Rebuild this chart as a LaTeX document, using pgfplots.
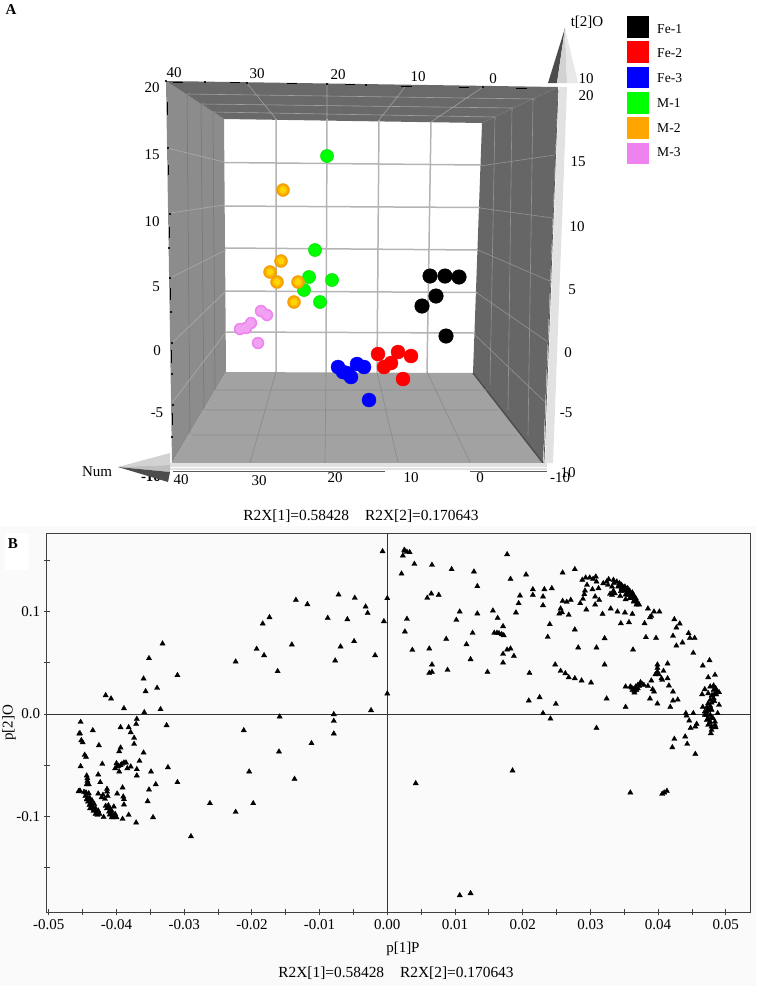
\documentclass[border=0pt]{standalone}
\usepackage{pgfplots}
\usepackage{pgfplotstable}
\usepackage{fontspec}
\usetikzlibrary{plotmarks}
\pgfplotsset{compat=1.18}
\setmainfont{Liberation Serif}

\definecolor{wallL}{HTML}{8C8C8C}
\definecolor{wallT}{HTML}{696969}
\definecolor{wallR}{HTML}{666666}
\definecolor{wallF}{HTML}{A2A2A2}
\definecolor{gridB}{HTML}{B4B4B4}
\definecolor{barC}{HTML}{E2E2E2}
\definecolor{paper}{HTML}{FAFAFA}
\definecolor{legG}{HTML}{00FF00}
\definecolor{legO}{HTML}{FFA500}
\definecolor{legP}{HTML}{EE82EE}

\newcommand{\fs}[1]{\fontsize{#1}{#1}\selectfont}

% scores, panel A (picture position of each sphere)
\pgfplotstableread{
x y
430 276
445 276
459 277
436 296
422 306
446 336
}\feOne
\pgfplotstableread{
x y
378 354
398 352
411 356
391 363
384 367
403 379
}\feTwo
\pgfplotstableread{
x y
338 367
343 372
347 373
351 377
357 364
364 367
369 400
}\feThree
\pgfplotstableread{
x y
327 156
315 250
309 277
332 280
304 290
320 302
}\mOne
\pgfplotstableread{
x y
283 190
281 261
270 272
277 282
298 282
294 302
}\mTwo
\pgfplotstableread{
x y
261 311
267 315
251 323
246 328
240 329
258 343
}\mThree

\begin{document}
\begin{tikzpicture}
\path[use as bounding box] (0,0) rectangle (756pt,986pt);
% panel A: box, scores and legend on a canvas measured from the top left
\begin{axis}[
  at={(0pt,0pt)}, anchor=south west,
  scale only axis, width=756pt, height=986pt,
  xmin=0, xmax=756, ymin=0, ymax=986, y dir=reverse,
  hide axis, clip=false,
  unbounded coords=jump,
]
\addplot[fill=paper,draw=none] coordinates {(0,526)(756,526)(756,986)(0,986)};
% walls
\addplot[fill=wallL,draw=none] coordinates {(166,81)(224,119)(226,372)(172,463)};
\addplot[fill=wallT,draw=none] coordinates {(166,81)(558,87)(482,123)(224,119)};
\addplot[fill=wallR,draw=none] coordinates {(558,87)(543,463)(473,373)(482,123)};
\addplot[fill=wallF,draw=none] coordinates {(226,372)(473,373)(543,463)(172,463)};
% back wall grid
\addplot[gridB,line width=1.5pt] coordinates {
 (276,119)(276,372)(0,nan)(327,119)(326,372)(0,nan)(379,120)(377,372)(0,nan)(431,122)(427,373)(0,nan)
 (224,162.5)(481,165)(0,nan)(224,206)(480,207.5)(0,nan)(225,248)(478,250)(0,nan)(225,291)(477,292.5)(0,nan)(226,332)(475,333)
};
% top wall grid
\addplot[gray!75,line width=0.6pt] coordinates {
 (276,119)(246,82)(0,nan)(327,119)(327,84)(0,nan)(379,120)(405,87)(0,nan)(431,122)(483,87)(0,nan)
 (187,94)(535,99)(0,nan)(202,104)(513,108)(0,nan)(213,112)(495,117)
};
% left wall grid
\addplot[gray!90!black,line width=0.5pt] coordinates {
 (187,94)(190,433)(0,nan)(201,104)(204,410)(0,nan)(213,112)(215,390)
};
\addplot[gray!65,line width=0.6pt] coordinates {
 (167,148)(224,162)(0,nan)(170,213)(224,205)(0,nan)(170,278)(226,250)(0,nan)(172,343)(226,291)(0,nan)(172,403)(226,332)
};
% right wall grid
\addplot[gray!85,line width=0.6pt] coordinates {
 (495,117)(490,385)(0,nan)(512,108)(508,410)(0,nan)(533,99)(528,435)(0,nan)
 (480,166)(555,155)(0,nan)(480,208)(553,218)(0,nan)(478,250)(552,282)(0,nan)(477,293)(548,342)(0,nan)(475,335)(545,402)
};
\addplot[gray!60!black,line width=1.4pt] coordinates {(473,373)(543,463)};
% floor grid
\addplot[gray!90,line width=0.7pt] coordinates {
 (276,372)(250,463)(0,nan)(326,372)(325,463)(0,nan)(377,372)(398,462)(0,nan)(427,372)(470,462)(0,nan)
 (215,390)(487,390)(0,nan)(205,410)(498,410)(0,nan)(192,435)(517,435)
};
% arrows along the axes
\addplot[fill=barC,draw=none] coordinates {(559,87)(567,87)(553,463)(545,463)};
\addplot[fill=barC,draw=none] coordinates {(167,463)(547,463)(547,470)(167,470)};
\addplot[white,line width=1pt] coordinates {(167,467)(547,467)};
\addplot[gray!70!black,line width=0.9pt] coordinates {(173,471)(385,471)(0,nan)(470,471)(547,471)};
\addplot[gray!70!black,line width=0.7pt] coordinates {(558,90)(544,463)};
\node[font=\fs{15}\bfseries] at (axis cs:151,477) {-10};
\addplot[fill=gray!60!black,draw=none] coordinates {(565,28)(548,83)(557,83)};
\addplot[fill=gray!35,draw=none] coordinates {(565,28)(557,83)(567,83)};
\addplot[fill=gray!18,draw=none] coordinates {(565,28)(567,83)(578,83)};
\addplot[fill=gray!35,draw=none] coordinates {(118,467)(170,453)(170,465)};
\addplot[fill=gray!50,draw=none] coordinates {(118,467)(170,465)(170,472)};
\addplot[fill=gray!60!black,draw=none] coordinates {(118,467)(170,472)(168,482)};
% scale marks along the outer edge
\addplot[black,line width=1pt] coordinates {
 (173,82)(183,82)(0,nan)(230,82.5)(240,82.5)(0,nan)(287,83)(297,83)(0,nan)(345,84)(355,84)(0,nan)
 (401,86)(412,86)(0,nan)(459,87)(469,87)(0,nan)(516,88)(527,88)(0,nan)
 (167,102)(167,115)(0,nan)(168,165)(168,175)(0,nan)(169,227)(169,238)(0,nan)
 (170,288)(170,300)(0,nan)(171,350)(171,363)(0,nan)(172,413)(172,425)
};
\addplot[only marks,mark=*,mark size=0.9pt,black] coordinates {
 (166,81)(205,82)(247,83)(327,84)(366,85)(483,87)
 (168,148)(170,214)(169,248)(170,278)(171,312)(172,343)(172,374)(173,405)(172,437)
};
% spheres
\addplot[only marks,mark=*,mark size=7.3pt,black] table {\feOne};
\addplot[only marks,mark=*,mark size=7pt,red] table {\feTwo};
\addplot[only marks,mark=*,mark size=7pt,blue] table {\feThree};
\addplot[only marks,mark=*,mark size=6.6pt,color=green!90!black] table {\mOne};
\addplot[only marks,mark=*,mark size=5.8pt,color=legG] table {\mOne};
\addplot[only marks,mark=*,mark size=6.5pt,color=legO!95!black] table {\mTwo};
\addplot[only marks,mark=*,mark size=5.2pt,color=orange!60!yellow] table {\mTwo};
\addplot[only marks,mark=*,mark size=3.2pt,color=yellow!75!orange] table {\mTwo};
\addplot[only marks,mark=*,mark size=6pt,color=legP] table {\mThree};
\addplot[only marks,mark=*,mark size=4.4pt,color=legP!75] table {\mThree};
% legend
\addplot[only marks,mark=square*,mark size=10.3pt,black] coordinates {(637.5,26.5)};
\addplot[only marks,mark=square*,mark size=10.3pt,red] coordinates {(637.5,51.5)};
\addplot[only marks,mark=square*,mark size=10.3pt,blue] coordinates {(637.5,77)};
\addplot[only marks,mark=square*,mark size=10.3pt,color=legG] coordinates {(637.5,102.5)};
\addplot[only marks,mark=square*,mark size=10.3pt,color=legO] coordinates {(637.5,127.5)};
\addplot[only marks,mark=square*,mark size=10.3pt,color=legP] coordinates {(637.5,153)};
\begin{scope}[nodes={font=\fs{13.6},anchor=west,inner sep=0pt}]
\node at (axis cs:657,29) {Fe-1};
\node at (axis cs:657,53) {Fe-2};
\node at (axis cs:657,78) {Fe-3};
\node at (axis cs:657,103) {M-1};
\node at (axis cs:657,128) {M-2};
\node at (axis cs:657,152) {M-3};
\end{scope}
% box labels
\begin{scope}[nodes={font=\fs{15},inner sep=0pt}]
\node at (axis cs:174,73) {40};
\node at (axis cs:257,74) {30};
\node at (axis cs:338,75) {20};
\node at (axis cs:418,77) {10};
\node at (axis cs:493,79) {0};
\node at (axis cs:152,88) {20};
\node at (axis cs:152,155) {15};
\node at (axis cs:152,222) {10};
\node at (axis cs:156,287) {5};
\node at (axis cs:157,351) {0};
\node at (axis cs:157,413) {-5};
\node at (axis cs:586,79) {10};
\node at (axis cs:586,96) {20};
\node at (axis cs:578,162) {15};
\node at (axis cs:577,227) {10};
\node at (axis cs:572,290) {5};
\node at (axis cs:568,353) {0};
\node at (axis cs:566,413) {-5};
\node at (axis cs:560,478) {-10};
\node at (axis cs:568,473) {10};
\node at (axis cs:181,480) {40};
\node at (axis cs:259,481) {30};
\node at (axis cs:335,478) {20};
\node at (axis cs:411,478) {10};
\node at (axis cs:480,478) {0};
\node at (axis cs:587,22) {t[2]O};
\node at (axis cs:97,472) {Num};
\node[font=\fs{15.4}] at (axis cs:361,516) {R2X[1]=0.58428\hspace{16pt}R2X[2]=0.170643};
\node[font=\fs{15.4}] at (axis cs:396,973) {R2X[1]=0.58428\hspace{16pt}R2X[2]=0.170643};
\node[font=\fs{15}\bfseries] at (axis cs:11,10) {A};
\end{scope}
\end{axis}

% panel B: loadings
\begin{axis}[
  at={(46.7pt,73.7pt)}, anchor=south west,
  scale only axis, width=704pt, height=379pt,
  xmin=-0.05031, xmax=0.05368, ymin=-0.19365, ymax=0.17646,
  axis background/.style={fill=paper},
  axis line style={black!75,line width=0.8pt},
  tick style={black!75,line width=0.8pt},
  tick align=center, major tick length=6pt, minor tick length=6pt,
  xtick pos=lower, ytick pos=lower,
  scaled ticks=false,
  xtick={-0.05,-0.04,-0.03,-0.02,-0.01,0,0.01,0.02,0.03,0.04,0.05},
  xticklabels={-0.05,-0.04,-0.03,-0.02,-0.01,0.00,0.01,0.02,0.03,0.04,0.05},
  minor xtick={-0.045,-0.035,-0.025,-0.015,-0.005,0.005,0.015,0.025,0.035,0.045},
  ytick={-0.1,0,0.1},
  yticklabels={-0.1,0.0,0.1},
  minor ytick={-0.15,-0.05,0.05,0.15},
  tick label style={font=\fs{15}},
  xticklabel style={yshift=-1pt},
  xlabel={p[1]P}, ylabel={p[2]O},
  every axis x label/.style={at={(axis description cs:0.506,-0.0968)},anchor=center,font=\fs{15}},
  every axis y label/.style={at={(axis description cs:-0.0535,0.4995)},anchor=center,rotate=90,font=\fs{15}},
]
\addplot[black!80,line width=0.8pt] coordinates {(-0.05031,0)(0.05368,0)};
\addplot[black!80,line width=0.8pt] coordinates {(0,-0.19365)(0,0.17646)};
\addplot[only marks,mark=triangle*,mark size=3pt,black] table {
x y
-0.0007 0.1588
0 0.1130
-0.0048 0.1133
-0.0072 0.1165
-0.0032 0.1048
-0.0029 0.0986
-0.0005 0.0905
-0.0059 0.0924
-0.0088 0.0937
-0.0118 0.1071
-0.0135 0.1113
-0.0174 0.0944
-0.0184 0.0882
-0.0193 0.0635
-0.0182 0.0573
-0.0224 0.0511
-0.0162 0.0417
-0.0141 0.0677
-0.0077 0.0521
-0.0069 0.0658
-0.0049 0.0710
-0.0018 0.0573
0 0.0199
-0.0024 0.0036
-0.0079 -0.0003
-0.0079 -0.0068
-0.0079 -0.0192
-0.0159 -0.0026
-0.0212 -0.0160
-0.0112 -0.0286
-0.0160 -0.0368
-0.0332 0.0687
-0.0352 0.0544
-0.0310 0.0378
-0.0360 0.0345
-0.0340 0.0254
-0.0357 0.0221
-0.0416 0.0182
-0.0408 0.0150
-0.0389 0.0055
-0.0335 0.0046
-0.0359 0.0016
-0.0370 -0.0049
-0.0371 -0.0098
-0.0326 -0.0111
-0.0453 -0.0078
-0.0435 -0.0160
-0.0454 -0.0189
-0.0455 -0.0192
-0.0394 -0.0130
-0.0382 -0.0130
-0.0379 -0.0179
-0.0374 -0.0234
-0.0374 -0.0293
-0.0452 -0.0257
-0.0450 -0.0277
-0.0426 -0.0306
-0.0394 -0.0329
-0.0396 -0.0365
-0.0360 -0.0378
-0.0447 -0.0400
-0.0445 -0.0420
-0.0366 -0.0459
-0.0453 -0.0511
-0.0421 -0.0488
-0.0370 -0.0540
-0.0379 -0.0514
-0.0384 -0.0531
-0.0349 -0.0563
-0.0324 -0.0521
-0.0204 -0.0563
-0.0137 -0.0635
-0.0310 -0.0667
-0.0342 -0.0687
-0.0370 -0.0602
-0.0427 -0.0592
-0.0424 -0.0667
-0.0352 -0.0739
-0.0262 -0.0872
-0.0198 -0.0872
-0.0224 -0.0957
-0.0354 -0.0853
-0.0346 -0.1009
-0.0290 -0.1195
-0.0371 -0.1061
-0.0382 -0.0986
-0.0389 -0.0885
-0.0389 -0.0833
-0.0390 -0.0807
-0.0399 -0.0778
-0.0391 -0.0719
-0.0391 -0.1025
-0.0427 -0.0778
-0.0422 -0.0814
-0.0420 -0.0791
-0.0417 -0.0830
-0.0413 -0.0801
-0.0414 -0.0732
-0.0414 -0.0758
-0.0404 -0.0905
-0.0402 -0.0531
-0.0400 -0.0482
-0.0399 -0.0514
-0.0397 -0.0508
-0.0394 -0.0501
-0.0392 -0.0488
-0.0389 -0.0475
-0.0386 -0.0475
-0.0396 -0.0563
-0.0444 -0.0602
-0.0443 -0.0628
-0.0443 -0.0654
-0.0444 -0.0687
-0.0441 -0.0687
-0.0456 -0.0755
-0.0454 -0.0749
-0.0448 -0.0762
-0.0445 -0.0768
-0.0441 -0.0775
-0.0446 -0.0801
-0.0443 -0.0824
-0.0440 -0.0814
-0.0442 -0.0856
-0.0439 -0.0846
-0.0436 -0.0846
-0.0440 -0.0889
-0.0437 -0.0889
-0.0433 -0.0879
-0.0439 -0.0921
-0.0435 -0.0921
-0.0431 -0.0921
-0.0434 -0.0947
-0.0430 -0.0944
-0.0427 -0.0944
-0.0431 -0.0977
-0.0428 -0.0986
-0.0425 -0.0977
-0.0419 -0.1006
-0.0416 -0.0898
-0.0412 -0.0892
-0.0414 -0.0921
-0.0410 -0.0921
-0.0411 -0.0954
-0.0407 -0.0947
-0.0410 -0.0983
-0.0406 -0.0983
-0.0402 -0.0977
-0.0407 -0.1009
-0.0404 -0.1009
-0.0400 -0.1009
-0.0444 -0.0835
-0.0438 -0.0870
-0.0436 -0.0905
-0.0433 -0.0930
-0.0429 -0.0960
-0.0408 -0.0965
-0.0404 -0.0995
0.0025 0.1601
0.0023 0.1546
0.0026 0.1592
0.0029 0.1582
0.0033 0.1579
0.0040 0.1465
0.0066 0.1455
0.0095 0.1413
0.0128 0.1390
0.0021 0.1370
0.0177 0.1559
0.0182 0.1318
0.0205 0.1361
0.0133 0.1247
0.0259 0.1380
0.0277 0.1413
0.0065 0.1175
0.0059 0.1133
0.0076 0.1162
0.0215 0.1217
0.0215 0.1162
0.0232 0.1217
0.0243 0.1227
0.0230 0.1146
0.0196 0.1156
0.0194 0.1081
0.0230 0.1061
0.0190 0.0990
0.0107 0.0999
0.0133 0.0980
0.0156 0.1009
0.0102 0.0918
0.0163 0.0937
0.0029 0.0928
0.0026 0.0804
0.0171 0.0856
0.0126 0.0791
0.0158 0.0791
0.0162 0.0791
0.0165 0.0788
0.0169 0.0778
0.0172 0.0768
0.0087 0.0732
0.0117 0.0680
0.0037 0.0625
0.0062 0.0638
0.0177 0.0628
0.0182 0.0638
0.0171 0.0586
0.0187 0.0566
0.0123 0.0534
0.0171 0.0501
0.0066 0.0482
0.0062 0.0400
0.0066 0.0410
0.0089 0.0430
0.0148 0.0410
0.0210 0.0400
0.0240 0.0876
0.0237 0.0752
0.0277 0.0824
0.0282 0.0648
0.0309 0.0648
0.0321 0.0739
0.0363 0.0628
0.0321 0.0482
0.0248 0.0482
0.0256 0.0420
0.0263 0.0397
0.0268 0.0358
0.0277 0.0348
0.0287 0.0326
0.0301 0.0306
0.0209 0.0130
0.0225 0.0163
0.0249 0.0098
0.0230 0.0007
0.0241 -0.0046
0.0309 -0.0137
0.0324 0.0150
0.0352 0.0068
0.0259 0.1103
0.0265 0.1094
0.0271 0.1113
0.0256 0.1029
0.0254 0.0980
0.0258 0.0993
0.0268 0.0967
0.0285 0.1081
0.0289 0.1123
0.0291 0.1169
0.0292 0.1204
0.0295 0.1260
0.0288 0.1309
0.0293 0.1331
0.0299 0.1331
0.0304 0.1318
0.0308 0.1341
0.0309 0.1292
0.0303 0.1217
0.0312 0.1227
0.0307 0.1146
0.0313 0.1113
0.0307 0.1068
0.0294 0.1019
0.0318 0.0977
0.0330 0.1029
0.0340 0.0999
0.0351 0.0990
0.0362 0.0977
0.0345 0.0885
0.0357 0.0895
0.0380 0.0885
0.0385 0.1029
0.0394 0.0999
0.0402 0.0999
0.0390 0.0957
0.0388 0.0944
0.0424 0.0924
0.0432 0.0882
0.0427 0.0843
0.0445 0.0788
0.0447 0.0742
0.0454 0.0742
0.0422 0.0762
0.0382 0.0749
0.0397 0.0742
0.0436 0.0697
0.0427 0.0667
0.0452 0.0596
0.0476 0.0524
0.0466 0.0472
0.0484 0.0381
0.0474 0.0358
0.0319 0.1276
0.0324 0.1292
0.0327 0.1315
0.0334 0.1309
0.0339 0.1292
0.0343 0.1276
0.0346 0.1260
0.0351 0.1243
0.0355 0.1227
0.0358 0.1204
0.0362 0.1185
0.0364 0.1159
0.0367 0.1130
0.0369 0.1097
0.0372 0.1068
0.0368 0.1068
0.0346 0.1227
0.0350 0.1204
0.0354 0.1178
0.0357 0.1162
0.0361 0.1130
0.0364 0.1097
0.0341 0.1243
0.0351 0.1204
0.0356 0.1185
0.0326 0.1260
0.0332 0.1243
0.0334 0.1201
0.0329 0.1172
0.0332 0.1162
0.0344 0.1152
0.0352 0.1120
0.0336 0.1178
0.0335 0.1280
0.0342 0.1255
0.0348 0.1240
0.0353 0.1215
0.0359 0.1175
0.0362 0.1145
0.0365 0.1115
0.0358 0.1130
0.0352 0.1165
0.0345 0.1200
0.0352 0.0267
0.0359 0.0267
0.0362 0.0234
0.0365 0.0208
0.0368 0.0234
0.0370 0.0283
0.0374 0.0309
0.0367 0.0267
0.0361 0.0257
0.0379 0.0283
0.0385 0.0273
0.0390 0.0326
0.0392 0.0241
0.0394 0.0218
0.0388 0.0150
0.0399 0.0101
0.0418 0.0068
0.0422 0.0130
0.0429 0.0140
0.0422 0.0218
0.0416 0.0277
0.0414 0.0348
0.0405 0.0348
0.0406 0.0332
0.0408 0.0420
0.0414 0.0492
0.0399 0.0482
0.0399 0.0449
0.0399 0.0413
0.0396 0.0387
0.0401 0.0387
0.0364 0.0240
0.0370 0.0250
0.0372 0.0275
0.0376 0.0295
0.0365 0.0225
0.0441 0.0007
0.0442 -0.0016
0.0452 0.0007
0.0446 -0.0065
0.0448 -0.0137
0.0455 -0.0124
0.0457 -0.0098
0.0440 -0.0221
0.0424 -0.0244
0.0443 -0.0293
0.0421 -0.0326
0.0455 -0.0391
0.0482 0.0277
0.0477 0.0267
0.0485 0.0251
0.0487 0.0218
0.0490 0.0212
0.0484 0.0202
0.0474 0.0202
0.0469 0.0241
0.0465 0.0192
0.0482 0.0153
0.0479 0.0111
0.0490 0.0088
0.0477 0.0078
0.0466 0.0068
0.0474 0.0039
0.0479 0.0039
0.0477 -0.0010
0.0472 -0.0010
0.0469 0.0023
0.0488 0.0007
0.0474 -0.0042
0.0479 -0.0042
0.0469 -0.0010
0.0484 -0.0107
0.0479 -0.0124
0.0474 -0.0107
0.0485 -0.0130
0.0478 -0.0189
0.0479 -0.0156
0.0477 -0.0075
0.0477 0.0137
0.0474 0.0104
0.0472 0.0065
0.0482 0.0234
0.0479 0.0179
0.0484 -0.0075
0.0472 -0.0059
0.0478 0.0050
0.0472 0.0020
0.0476 -0.0090
0.0481 -0.0040
0.0483 0.0125
0.0480 0.0180
0.0486 0.0190
0.0042 -0.0677
0.0185 -0.0553
0.0359 -0.0768
0.0406 -0.0781
0.0409 -0.0768
0.0413 -0.0752
0.0107 -0.1771
0.0123 -0.1751
};
\end{axis}
% panel letter sits on a white patch beside the plot frame
\fill[white] (5pt,416pt) rectangle (29pt,453pt);
\node[font=\fs{15}\bfseries,inner sep=0pt] at (13pt,442pt) {B};
\end{tikzpicture}
\end{document}
